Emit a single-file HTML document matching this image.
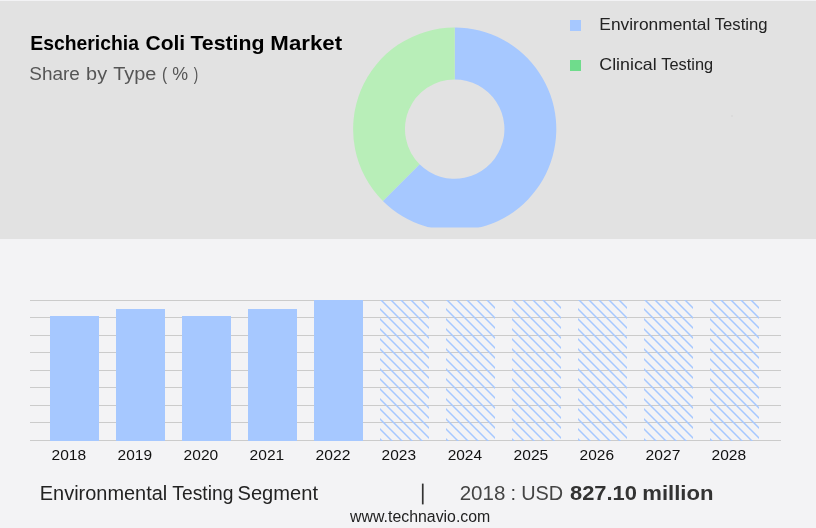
<!DOCTYPE html>
<html><head><meta charset="utf-8"><title>Escherichia Coli Testing Market</title>
<style>
html,body{margin:0;padding:0;background:#f3f3f5;}
body{width:816px;height:528px;overflow:hidden;font-family:"Liberation Sans",sans-serif;}
svg{display:block;}
text{font-family:"Liberation Sans",sans-serif;}
</style></head><body>
<svg width="816" height="528" viewBox="0 0 816 528">
<defs>
<pattern id="h" width="10" height="10" patternUnits="userSpaceOnUse">
<path d="M-2 -3L12 11M-2 7L12 21M-2 -13L12 1" stroke="#a6c8ff" stroke-width="1.5" fill="none"/>
</pattern>
<clipPath id="c"><rect x="340" y="0" width="240" height="227.4"/></clipPath>
</defs>
<rect x="0" y="0" width="816" height="528" fill="#f3f3f5"/>
<rect x="0" y="1" width="816" height="238" fill="#e2e2e2"/>
<g clip-path="url(#c)">
<path d="M454.70 27.50A101.6 101.6 0 1 1 382.86 200.94L419.56 164.24A49.7 49.7 0 1 0 454.70 79.40Z" fill="#a6c8ff"/>
<path d="M382.86 200.94A101.6 101.6 0 0 1 454.70 27.50L454.70 79.40A49.7 49.7 0 0 0 419.56 164.24Z" fill="#b8eeb8"/>
</g>
<rect x="570" y="20" width="11" height="11" fill="#a6c8ff"/>
<rect x="570" y="60" width="11" height="11" fill="#6fdc8c"/>
<rect x="30" y="300" width="751" height="1" fill="#cbcbcb"/><rect x="30" y="317" width="751" height="1" fill="#cbcbcb"/><rect x="30" y="335" width="751" height="1" fill="#cbcbcb"/><rect x="30" y="352" width="751" height="1" fill="#cbcbcb"/><rect x="30" y="370" width="751" height="1" fill="#cbcbcb"/><rect x="30" y="387" width="751" height="1" fill="#cbcbcb"/><rect x="30" y="405" width="751" height="1" fill="#cbcbcb"/><rect x="30" y="422" width="751" height="1" fill="#cbcbcb"/><rect x="30" y="440" width="751" height="1" fill="#cbcbcb"/>
<rect x="50" y="316" width="49" height="125" fill="#a6c8ff"/><rect x="116" y="309" width="49" height="132" fill="#a6c8ff"/><rect x="182" y="316" width="49" height="125" fill="#a6c8ff"/><rect x="248" y="309" width="49" height="132" fill="#a6c8ff"/><rect x="314" y="300" width="49" height="141" fill="#a6c8ff"/><svg x="380" y="300" width="49" height="141" overflow="hidden"><rect width="49" height="141" fill="url(#h)"/></svg><svg x="446" y="300" width="49" height="141" overflow="hidden"><rect width="49" height="141" fill="url(#h)"/></svg><svg x="512" y="300" width="49" height="141" overflow="hidden"><rect width="49" height="141" fill="url(#h)"/></svg><svg x="578" y="300" width="49" height="141" overflow="hidden"><rect width="49" height="141" fill="url(#h)"/></svg><svg x="644" y="300" width="49" height="141" overflow="hidden"><rect width="49" height="141" fill="url(#h)"/></svg><svg x="710" y="300" width="49" height="141" overflow="hidden"><rect width="49" height="141" fill="url(#h)"/></svg>
<rect x="731" y="115" width="2" height="2" fill="#dbdbdb"/>
<rect x="421.9" y="483.6" width="1.7" height="20.8" fill="#333"/>
<text y="49.5" font-size="20.5" font-weight="bold" fill="#000"><tspan x="30.37" textLength="108.52" lengthAdjust="spacingAndGlyphs">Escherichia</tspan> <tspan x="145.50" textLength="39.70" lengthAdjust="spacingAndGlyphs">Coli</tspan> <tspan x="190.40" textLength="74.08" lengthAdjust="spacingAndGlyphs">Testing</tspan> <tspan x="270.38" textLength="71.72" lengthAdjust="spacingAndGlyphs">Market</tspan></text>
<text y="79.7" font-size="18.7" fill="#555"><tspan x="29.37" textLength="50.51" lengthAdjust="spacingAndGlyphs">Share</tspan> <tspan x="86.14" textLength="20.96" lengthAdjust="spacingAndGlyphs">by</tspan> <tspan x="113.19" textLength="43.07" lengthAdjust="spacingAndGlyphs">Type</tspan> <tspan x="161.95" textLength="5.13" lengthAdjust="spacingAndGlyphs">(</tspan> <tspan x="172.34" textLength="15.83" lengthAdjust="spacingAndGlyphs">%</tspan> <tspan x="193.75" textLength="4.47" lengthAdjust="spacingAndGlyphs">)</tspan></text>
<text y="29.9" font-size="16.5" fill="#222"><tspan x="599.35" textLength="110.95" lengthAdjust="spacingAndGlyphs">Environmental</tspan> <tspan x="714.71" textLength="52.81" lengthAdjust="spacingAndGlyphs">Testing</tspan></text>
<text y="69.9" font-size="16.5" fill="#222"><tspan x="599.29" textLength="57.44" lengthAdjust="spacingAndGlyphs">Clinical</tspan> <tspan x="661.22" textLength="51.89" lengthAdjust="spacingAndGlyphs">Testing</tspan></text>
<text y="499.8" font-size="19.3" fill="#222"><tspan x="39.80" textLength="127.46" lengthAdjust="spacingAndGlyphs">Environmental</tspan> <tspan x="172.34" textLength="61.06" lengthAdjust="spacingAndGlyphs">Testing</tspan> <tspan x="237.50" textLength="80.52" lengthAdjust="spacingAndGlyphs">Segment</tspan></text>
<text y="499.8" font-size="20" fill="#444"><tspan x="459.69" textLength="45.69" lengthAdjust="spacingAndGlyphs">2018</tspan> <tspan x="510.50" textLength="5.56" lengthAdjust="spacingAndGlyphs">:</tspan> <tspan x="521.16" textLength="41.94" lengthAdjust="spacingAndGlyphs">USD</tspan></text>
<text y="499.7" font-size="20" font-weight="bold" fill="#333"><tspan x="569.97" textLength="66.93" lengthAdjust="spacingAndGlyphs">827.10</tspan> <tspan x="642.26" textLength="71.19" lengthAdjust="spacingAndGlyphs">million</tspan></text>
<text y="522.0" font-size="16" fill="#222"><tspan x="350.12" textLength="140.19" lengthAdjust="spacingAndGlyphs">www.technavio.com</tspan></text>
<text y="459.9" font-size="15.5" fill="#111"><tspan x="51.59" textLength="34.58" lengthAdjust="spacingAndGlyphs">2018</tspan></text>
<text y="459.9" font-size="15.5" fill="#111"><tspan x="117.59" textLength="34.40" lengthAdjust="spacingAndGlyphs">2019</tspan></text>
<text y="459.9" font-size="15.5" fill="#111"><tspan x="183.61" textLength="34.58" lengthAdjust="spacingAndGlyphs">2020</tspan></text>
<text y="459.9" font-size="15.5" fill="#111"><tspan x="249.59" textLength="34.60" lengthAdjust="spacingAndGlyphs">2021</tspan></text>
<text y="459.9" font-size="15.5" fill="#111"><tspan x="315.59" textLength="34.79" lengthAdjust="spacingAndGlyphs">2022</tspan></text>
<text y="459.9" font-size="15.5" fill="#111"><tspan x="381.59" textLength="34.40" lengthAdjust="spacingAndGlyphs">2023</tspan></text>
<text y="459.9" font-size="15.5" fill="#111"><tspan x="447.63" textLength="34.42" lengthAdjust="spacingAndGlyphs">2024</tspan></text>
<text y="459.9" font-size="15.5" fill="#111"><tspan x="513.59" textLength="34.70" lengthAdjust="spacingAndGlyphs">2025</tspan></text>
<text y="459.9" font-size="15.5" fill="#111"><tspan x="579.59" textLength="34.43" lengthAdjust="spacingAndGlyphs">2026</tspan></text>
<text y="459.9" font-size="15.5" fill="#111"><tspan x="645.59" textLength="34.79" lengthAdjust="spacingAndGlyphs">2027</tspan></text>
<text y="459.9" font-size="15.5" fill="#111"><tspan x="711.59" textLength="34.58" lengthAdjust="spacingAndGlyphs">2028</tspan></text>
</svg>
</body></html>
